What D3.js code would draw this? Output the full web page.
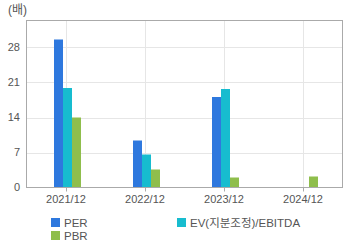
<!DOCTYPE html>
<html>
<head>
<meta charset="utf-8">
<script src="https://cdn.jsdelivr.net/npm/d3@7"></script>
<style>
  body { margin: 0; background: #fff; }
  text { font-family: "Liberation Sans", "Noto Sans CJK KR", sans-serif; font-size: 11px; fill: #555; }
</style>
</head>
<body>
<script>
// 데이터
const categories = ["2021/12", "2022/12", "2023/12", "2024/12"];
const seriesNames = ["PER", "EV(지분조정)/EBITDA", "PBR"];
const per  = [29.6, 9.4, 18.1, null];
const ev   = [19.9, 6.6, 19.7, null];
const pbr  = [14.0, 3.6, 2.0, 2.2];
const yTicks = [0, 7, 14, 21, 28];
const colors = ["#2e78de", "#17bccf", "#8fbe4c"];

const W = 360, H = 248;
const plot = {left: 26.5, top: 20.5, right: 342.5, bottom: 187.5};

const svg = d3.select("body").append("svg")
  .attr("width", W).attr("height", H);

const x = d3.scaleBand().domain(categories).range([plot.left, plot.right]).padding(0);
const y = d3.scaleLinear().domain([0, 33.4]).range([plot.bottom, plot.top]);

// 그리드
svg.append("g").selectAll("line.h")
  .data(yTicks.slice(1))
  .enter().append("line")
  .attr("x1", plot.left).attr("x2", plot.right)
  .attr("y1", d => Math.round(y(d)) + 0.5).attr("y2", d => Math.round(y(d)) + 0.5)
  .style("stroke", "#e6e6e6");

svg.append("g").selectAll("line.v")
  .data(categories)
  .enter().append("line")
  .attr("x1", d => Math.round(x(d) + x.bandwidth() / 2) + 0.5)
  .attr("x2", d => Math.round(x(d) + x.bandwidth() / 2) + 0.5)
  .attr("y1", plot.top).attr("y2", plot.bottom)
  .style("stroke", "#e6e6e6");

// 막대
const series = [per, ev, pbr];
const bw = 9;
series.forEach((vals, si) => {
  svg.append("g").selectAll("rect")
    .data(vals.map((v, i) => ({v: v, c: categories[i]})).filter(d => d.v != null))
    .enter().append("rect")
    .attr("x", d => Math.round(x(d.c) + x.bandwidth() / 2) - 12 + si * bw)
    .attr("y", d => y(d.v))
    .attr("width", bw)
    .attr("height", d => plot.bottom - y(d.v))
    .style("fill", colors[si]);
});

// 테두리
svg.append("rect")
  .attr("x", plot.left).attr("y", plot.top)
  .attr("width", plot.right - plot.left).attr("height", plot.bottom - plot.top)
  .style("fill", "none").style("stroke", "#aaa");

// x축 눈금
svg.append("g").selectAll("line.t")
  .data(categories)
  .enter().append("line")
  .attr("x1", d => Math.round(x(d) + x.bandwidth() / 2) + 0.5)
  .attr("x2", d => Math.round(x(d) + x.bandwidth() / 2) + 0.5)
  .attr("y1", plot.bottom).attr("y2", plot.bottom + 4)
  .style("stroke", "#aaa");

svg.append("g").selectAll("text.x")
  .data(categories)
  .enter().append("text")
  .attr("x", d => x(d) + x.bandwidth() / 2)
  .attr("y", 203)
  .attr("text-anchor", "middle")
  .text(d => d);

// y축 라벨
svg.append("g").selectAll("text.y")
  .data(yTicks)
  .enter().append("text")
  .attr("x", 20)
  .attr("y", d => y(d))
  .attr("dy", "0.35em")
  .attr("text-anchor", "end")
  .text(d => d);

svg.append("text").attr("x", 8).attr("y", 14).style("font-size", "12px").text("(배)");

// 범례
const legend = [
  {name: seriesNames[0], c: colors[0], x: 51, y: 218},
  {name: seriesNames[1], c: colors[1], x: 177, y: 218},
  {name: seriesNames[2], c: colors[2], x: 51, y: 231}
];
const lg = svg.append("g").selectAll("g")
  .data(legend)
  .enter().append("g")
  .attr("transform", d => "translate(" + d.x + "," + d.y + ")");
lg.append("rect").attr("width", 9).attr("height", 9).style("fill", d => d.c);
lg.append("text").attr("x", 13).attr("y", 4.5).attr("dy", "0.35em")
  .style("font-size", "11.5px").text(d => d.name);
</script>
</body>
</html>
